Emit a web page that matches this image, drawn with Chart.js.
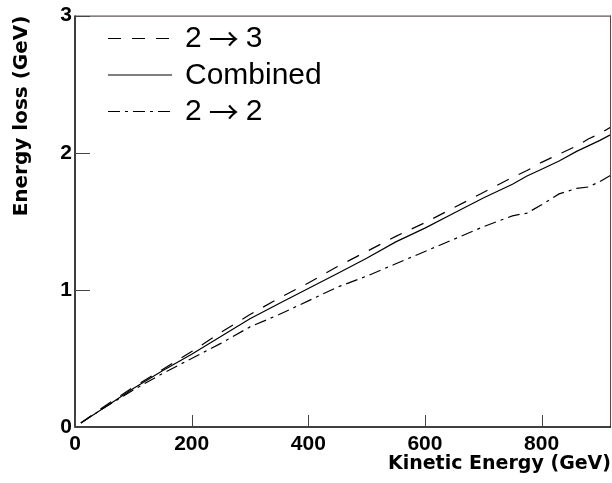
<!DOCTYPE html>
<html>
<head>
<meta charset="utf-8">
<title>Energy loss vs kinetic energy</title>
<script src="https://cdn.jsdelivr.net/npm/chart.js@4.4.1/dist/chart.umd.min.js"></script>
<style>
    html, body { margin: 0; padding: 0; background: #fff; }
    #wrap { width: 612px; height: 483px; }
</style>
</head>
<body>
<div id="wrap"><canvas id="lossChart" width="612" height="483"></canvas></div>
<script>
// Values
const energies = [10, 50, 100, 150, 200, 250, 300, 350, 400, 450, 500, 550, 600, 650, 700, 750, 775, 800, 830, 860, 880, 900, 920];
const loss23 = [0.03, 0.15, 0.29, 0.42, 0.55, 0.69, 0.82, 0.94, 1.05, 1.17, 1.28, 1.39, 1.49, 1.60, 1.71, 1.82, 1.87, 1.93, 1.99, 2.05, 2.10, 2.14, 2.19];
const lossCombined = [0.03, 0.14, 0.28, 0.41, 0.53, 0.66, 0.79, 0.90, 1.01, 1.12, 1.23, 1.35, 1.45, 1.56, 1.67, 1.77, 1.83, 1.88, 1.94, 2.01, 2.05, 2.09, 2.135];
const loss22 = [0.03, 0.14, 0.27, 0.39, 0.50, 0.61, 0.73, 0.82, 0.92, 1.02, 1.10, 1.19, 1.28, 1.37, 1.46, 1.54, 1.56, 1.62, 1.70, 1.74, 1.75, 1.79, 1.84];
const seriesLabels = ['2 \u2192 3', 'Combined', '2 \u2192 2'];
const xTicks = [0, 200, 400, 600, 800];
const yTicks = [0, 1, 2, 3];

function points(vals) {
    return energies.map((e, i) => ({ x: e, y: vals[i] }));
}

// frame + inward tick marks (ROOT style)
const framePlugin = {
    id: 'frame',
    afterDraw(chart) {
        const { ctx, chartArea: a, scales } = chart;
        ctx.save();
        ctx.lineWidth = 1;
        ctx.strokeStyle = '#3a2c2c';
        ctx.beginPath();
        ctx.moveTo(a.left, a.top + 0.5);
        ctx.lineTo(a.right, a.top + 0.5);
        ctx.stroke();
        ctx.strokeStyle = '#7a3c3c';
        ctx.beginPath();
        ctx.moveTo(a.right - 0.5, a.top);
        ctx.lineTo(a.right - 0.5, a.bottom);
        ctx.stroke();
        ctx.strokeStyle = '#000';
        ctx.lineWidth = 1.5;
        ctx.beginPath();
        ctx.moveTo(a.left, a.top);
        ctx.lineTo(a.left, a.bottom);
        ctx.lineTo(a.right, a.bottom);
        ctx.stroke();
        // ticks
        ctx.lineWidth = 1;
        ctx.strokeStyle = '#444';
        ctx.beginPath();
        xTicks.forEach(t => {
            const px = Math.round(scales.x.getPixelForValue(t)) + 0.5;
            ctx.moveTo(px, a.bottom);
            ctx.lineTo(px, a.bottom - 12);
        });
        yTicks.forEach(t => {
            const py = Math.round(scales.y.getPixelForValue(t)) + 0.5;
            ctx.moveTo(a.left, py);
            ctx.lineTo(a.left + 15, py);
        });
        ctx.stroke();
        ctx.restore();
    }
};

// legend drawn inside the frame, top-left; the arrow gets a wider glyph
const legendPlugin = {
    id: 'insideLegend',
    afterDraw(chart) {
        const ctx = chart.ctx;
        const rows = [38, 74.5, 111];
        const textFont = '30px "Liberation Sans", Arial, sans-serif';
        const arrowFont = '30px "Noto Sans CJK SC", "DejaVu Sans", sans-serif';
        ctx.save();
        ctx.textBaseline = 'middle';
        ctx.fillStyle = '#000';
        chart.data.datasets.forEach((ds, i) => {
            const y = rows[i] + 0.5;
            ctx.strokeStyle = ds.borderColor;
            ctx.lineWidth = 1.2;
            ctx.setLineDash(ds.borderDash || []);
            ctx.beginPath();
            ctx.moveTo(108, y);
            ctx.lineTo(172, y);
            ctx.stroke();
            ctx.setLineDash([]);
            const parts = ds.label.split('\u2192');
            let x = 185;
            ctx.font = textFont;
            if (parts.length === 1) {
                ctx.fillText(ds.label, x, rows[i] + 1);
                return;
            }
            const left = parts[0].trim(), right = parts[1].trim();
            ctx.fillText(left, x, rows[i] + 1);
            x += ctx.measureText(left).width + 7;
            ctx.font = arrowFont;
            ctx.fillText('\u2192', x, rows[i] + 1);
            x += ctx.measureText('\u2192').width + 7;
            ctx.font = textFont;
            ctx.fillText(right, x, rows[i] + 1);
        });
        ctx.restore();
    }
};

const ctx = document.getElementById('lossChart').getContext('2d');
new Chart(ctx, {
    type: 'line',
    data: {
        datasets: [{
            label: seriesLabels[0],
            data: points(loss23),
            borderColor: '#000',
            borderWidth: 1.2,
            borderDash: [13, 11]
        }, {
            label: seriesLabels[1],
            data: points(lossCombined),
            borderColor: '#000',
            borderWidth: 1.2
        }, {
            label: seriesLabels[2],
            data: points(loss22),
            borderColor: '#000',
            borderWidth: 1.2,
            borderDash: [12, 5, 3, 5]
        }]
    },
    options: {
        responsive: false,
        animation: false,
        devicePixelRatio: 1,
        elements: {
            point: { radius: 0 },
            line: { tension: 0, fill: false }
        },
        layout: { padding: { top: 13, right: 1, left: 0, bottom: 0 } },
        plugins: {
            legend: { display: false },
            tooltip: { enabled: false }
        },
        scales: {
            x: {
                type: 'linear',
                min: 0,
                max: 919,
                afterFit: s => { s.height = 56; },
                afterBuildTicks: s => { s.ticks = xTicks.map(v => ({ value: v })); },
                grid: { display: false, drawTicks: false },
                border: { display: false },
                ticks: {
                    padding: 5,
                    maxRotation: 0,
                    color: '#000',
                    font: { family: '"Liberation Sans", Arial, sans-serif', size: 21, weight: 'bold' }
                },
                title: {
                    display: true,
                    text: 'Kinetic Energy (GeV)',
                    align: 'end',
                    color: '#000',
                    padding: { top: 0, bottom: 8 },
                    font: { family: '"DejaVu Sans", sans-serif', size: 19, weight: 'bold' }
                }
            },
            y: {
                type: 'linear',
                min: 0,
                max: 3,
                afterFit: s => { s.width = 75; },
                afterBuildTicks: s => { s.ticks = yTicks.map(v => ({ value: v })); },
                grid: { display: false, drawTicks: false },
                border: { display: false },
                ticks: {
                    padding: 3,
                    color: '#000',
                    font: { family: '"Liberation Sans", Arial, sans-serif', size: 21, weight: 'bold' }
                },
                title: {
                    display: true,
                    text: 'Energy loss (GeV)',
                    align: 'end',
                    color: '#000',
                    padding: { top: 10, bottom: 0 },
                    font: { family: '"DejaVu Sans", sans-serif', size: 20, weight: 'bold' }
                }
            }
        }
    },
    plugins: [framePlugin, legendPlugin]
});
</script>
</body>
</html>
